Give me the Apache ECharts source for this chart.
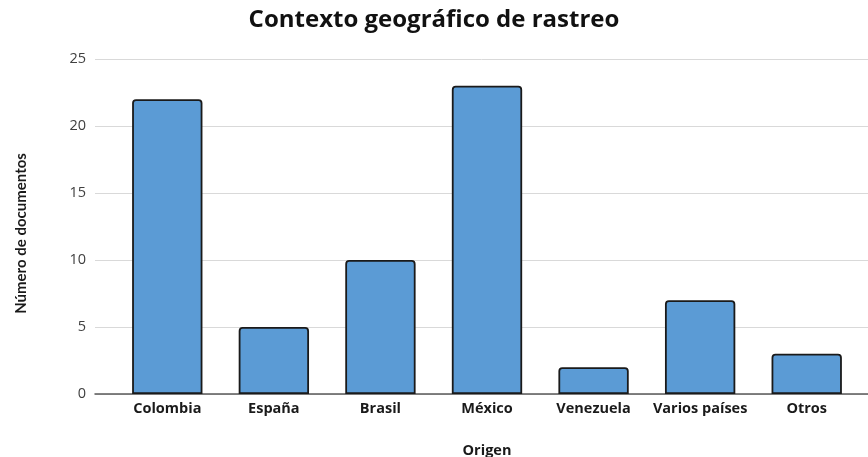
<!DOCTYPE html>
<html><head><meta charset="utf-8">
<script src="https://cdn.jsdelivr.net/npm/echarts@6/dist/echarts.min.js"></script>
<style>html,body{margin:0;padding:0;background:#fff}#c{width:868px;height:457px}</style>
</head><body><div id="c"></div>
<script>
const categories = ["Colombia","España","Brasil","México","Venezuela","Varios países","Otros"];
const documentos = [22,5,10,23,2,7,3];
const yTicks = [0,5,10,15,20,25];

const chart = echarts.init(document.getElementById('c'), null, {renderer:'canvas'});
const gTop = 59, gBottom = 63;
chart.setOption({
  animation:false,
  title:{text:"Contexto geográfico de rastreo", left:'center', top:3,
    textStyle:{fontFamily:'Open Sans', fontWeight:'bold', fontSize:24, color:'#111'}},
  grid:[
    {left:95, right:0, top:gTop, bottom:gBottom, outerBoundsMode:'none', containLabel:false},
    {left:114, right:8, top:gTop, bottom:gBottom, outerBoundsMode:'none', containLabel:false}
  ],
  xAxis:[
    {gridIndex:0, type:'value', min:0, max:1, axisLine:{show:true, onZero:false, lineStyle:{color:'#595959', width:1.5}},
     axisTick:{show:false}, axisLabel:{show:false}, splitLine:{show:false}},
    {gridIndex:1, type:'category', data:categories,
     axisLine:{show:false}, axisTick:{show:false},
     axisLabel:{margin:7, fontFamily:'Open Sans', fontWeight:'bold', fontSize:14.5, color:'#1a1a1a', interval:0},
     name:'Origen', nameLocation:'middle', nameGap:49,
     nameTextStyle:{fontFamily:'Open Sans', fontWeight:'bold', fontSize:14.5, color:'#1a1a1a'}}
  ],
  yAxis:[
    {gridIndex:0, type:'value', min:yTicks[0], max:yTicks[yTicks.length-1], interval:5,
     axisLine:{show:false}, axisTick:{show:false},
     axisLabel:{margin:9, fontFamily:'Open Sans', fontSize:14.5, color:'#404040'},
     splitLine:{lineStyle:{color:'#d9d9d9', width:1}},
     name:'Número de documentos', nameLocation:'middle', nameGap:66, nameRotate:90,
     nameTextStyle:{fontFamily:'Lato', fontWeight:'bold', fontSize:15, color:'#1a1a1a', padding:[0,14,0,0]}},
    {gridIndex:1, type:'value', min:yTicks[0], max:yTicks[yTicks.length-1], interval:5, show:false}
  ],
  series:[{
    type:'bar', xAxisIndex:1, yAxisIndex:1, data:documentos,
    barCategoryGap:'34%',
    itemStyle:{color:'#5B9BD5', borderColor:'#1a1a1a', borderWidth:1.8, borderRadius:[3,3,0,0]}
  }]
});
</script></body></html>
